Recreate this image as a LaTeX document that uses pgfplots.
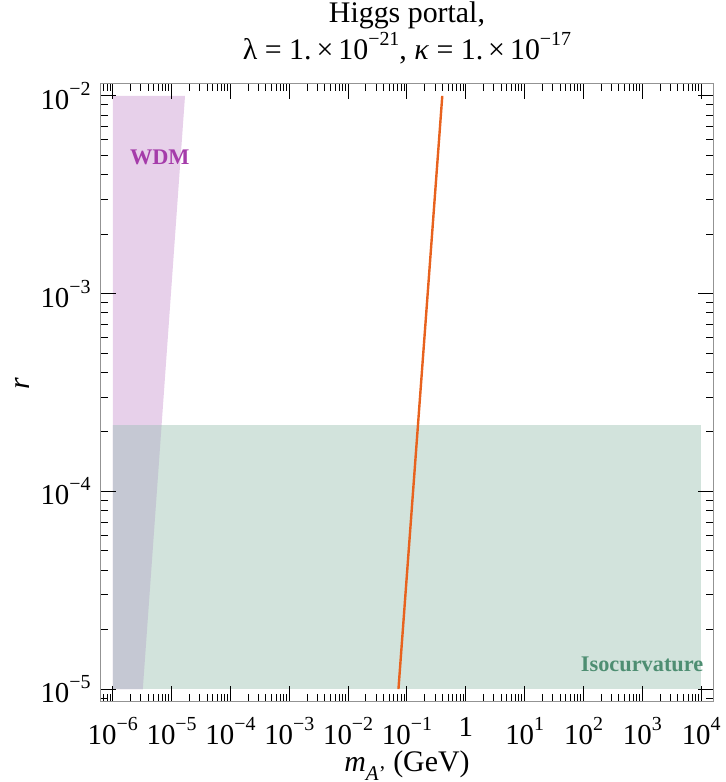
\documentclass[border=0pt]{standalone}
\usepackage{fontspec}
\setmainfont{Liberation Serif}
\usepackage{pgfplots}
\pgfplotsset{compat=1.18}
\definecolor{wdmfill}{RGB}{231,208,234}
\definecolor{isofill}{RGB}{210,227,220}
\definecolor{bothfill}{RGB}{197,200,211}
\definecolor{wdmtext}{RGB}{165,60,170}
\definecolor{isotext}{RGB}{78,142,114}
\definecolor{linecol}{RGB}{232,98,30}
\newcommand\ee[1]{10\raisebox{0.48em}{\fontsize{10}{10}\selectfont #1}}
\begin{document}
\fontsize{15}{18}\selectfont
\begin{tikzpicture}
\begin{axis}[
  xmode=log, ymode=log,
  scale only axis, width=306bp, height=308.5bp,
  xmin=6.31e-7, xmax=1.585e4, ymin=8.71e-6, ymax=1.148e-2,
  xtick={1e-6,1e-5,1e-4,1e-3,1e-2,1e-1,1,10,100,1000,10000},
  xticklabels={\ee{−6},\ee{−5},\ee{−4},\ee{−3},\ee{−2},\ee{−1},1,\ee{1},\ee{2},\ee{3},\ee{4}},
  ytick={1e-5,1e-4,1e-3,1e-2},
  yticklabels={\ee{−5},\ee{−4},\ee{−3},\ee{−2}},
  minor xtick={7e-7,8e-7,9e-7,
    2e-6,3e-6,4e-6,5e-6,6e-6,7e-6,8e-6,9e-6,
    2e-5,3e-5,4e-5,5e-5,6e-5,7e-5,8e-5,9e-5,
    2e-4,3e-4,4e-4,5e-4,6e-4,7e-4,8e-4,9e-4,
    2e-3,3e-3,4e-3,5e-3,6e-3,7e-3,8e-3,9e-3,
    2e-2,3e-2,4e-2,5e-2,6e-2,7e-2,8e-2,9e-2,
    0.2,0.3,0.4,0.5,0.6,0.7,0.8,0.9,
    2,3,4,5,6,7,8,9,
    20,30,40,50,60,70,80,90,
    200,300,400,500,600,700,800,900,
    2000,3000,4000,5000,6000,7000,8000,9000},
  minor ytick={9e-6,
    2e-5,3e-5,4e-5,5e-5,6e-5,7e-5,8e-5,9e-5,
    2e-4,3e-4,4e-4,5e-4,6e-4,7e-4,8e-4,9e-4,
    2e-3,3e-3,4e-3,5e-3,6e-3,7e-3,8e-3,9e-3},
  tick align=inside,
  major tick length=7.5bp, minor tick length=3.5bp,
  axis line style={gray!85, line width=0.5bp},
  tick style={black, line width=0.5bp},
  axis on top,
  ticklabel style={font=\fontsize{14.5}{17}\selectfont},
  xticklabel style={yshift=-3bp},
  title={Higgs portal,\\λ = 1.\,×\,\ee{−21}, \textit{κ} = 1.\,×\,\ee{−17}},
  title style={align=center, at={(0.5,1.0633)}, anchor=center, font=\fontsize{15}{19}\selectfont},
  xlabel={\textit{m}\raisebox{-0.3em}{\fontsize{10.5}{10}\selectfont\textit{A}'} (GeV)},
  xlabel style={at={(axis description cs:0.5,-0.104)}, anchor=center, font=\fontsize{15}{18}\selectfont},
  ylabel={\textit{r}},
  ylabel style={at={(axis description cs:-0.129,0.515)}, anchor=center, rotate=0, font=\fontsize{15}{18}\selectfont},
]
\addplot[fill=wdmfill, draw=none] coordinates {(1e-6,1e-5) (3.24e-6,1e-5) (1.69e-5,1e-2) (1e-6,1e-2)};
\addplot[fill=isofill, draw=none] coordinates {(1e-6,1e-5) (1e4,1e-5) (1e4,2.16e-4) (1e-6,2.16e-4)};
\addplot[fill=bothfill, draw=none] coordinates {(1e-6,1e-5) (3.24e-6,1e-5) (6.76e-6,2.16e-4) (1e-6,2.16e-4)};
\addplot[linecol, line width=1.2bp] coordinates {(0.0716,1e-5) (0.398,1e-2)};
\node[text=wdmtext, font=\fontsize{11.2}{13}\selectfont\bfseries] at (axis cs:6.3e-6,4.9e-3) {WDM};
\node[text=isotext, font=\fontsize{11.2}{13}\selectfont\bfseries] at (axis cs:990,1.34e-5) {Isocurvature};
\end{axis}
\pgfresetboundingbox
\path ([shift={(-50.5bp,-40.5bp)}]current axis.south west) rectangle ([shift={(6.5bp,42bp)}]current axis.north east);
\end{tikzpicture}
\end{document}
